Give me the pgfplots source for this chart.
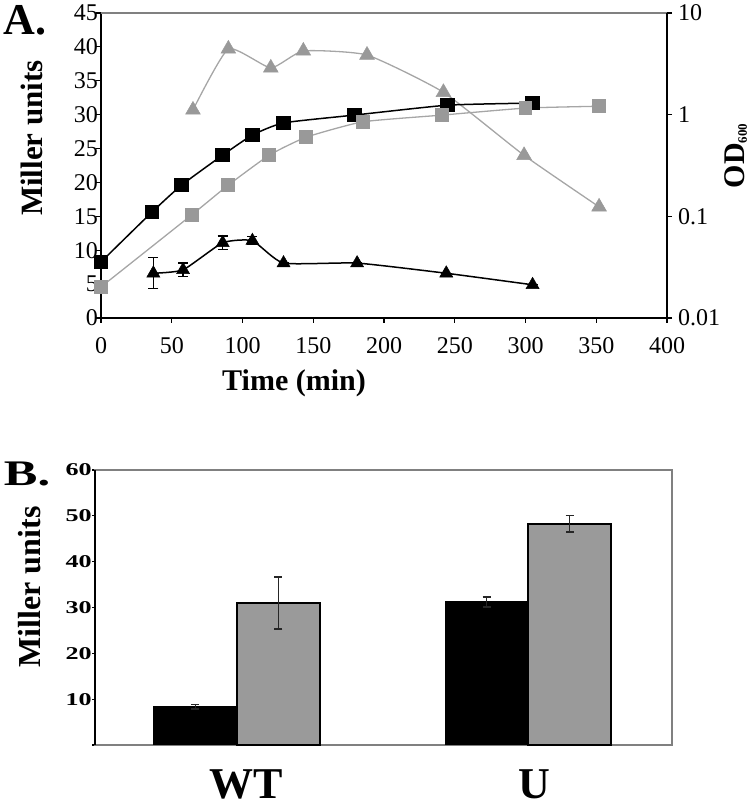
\documentclass[border=0pt]{standalone}
\usepackage{pgfplots}
\pgfplotsset{compat=1.18}
\usepackage{fontspec}
\setmainfont{Liberation Serif}
\definecolor{mgray}{HTML}{999999}
\definecolor{lgray}{HTML}{A6A6A6}
\definecolor{fgray}{HTML}{9A9A9A}
\begin{document}
\begin{tikzpicture}[x=1pt,y=1pt]
\useasboundingbox (0,0) rectangle (750,808);
% ---------- Panel A: Miller units (left, linear) ----------
\begin{axis}[
  at={(101pt,490pt)}, anchor=south west, scale only axis,
  width=566pt, height=305pt,
  xmin=0, xmax=400, ymin=0, ymax=45,
  xtick={0,50,...,400}, ytick={0,5,...,45},
  axis x line*=bottom, axis y line*=left,
  axis line style={-, black, line width=1.8pt},
  tick align=outside, major tick length=5pt,
  tick style={black, line width=1.2pt},
  /pgf/number format/assume math mode=true,
  ticklabel style={font=\fontsize{24}{24}\selectfont},
  xticklabel style={anchor=north, inner sep=0pt, yshift=-14pt},
  yticklabel style={anchor=east, inner sep=0pt, xshift=2pt},
  clip=false,
]
\draw[gray, line width=1.1pt] (rel axis cs:0,1) -- (rel axis cs:1,1);
% gray triangles
\addplot[lgray, line width=1.3pt, smooth, tension=0.3, mark=triangle*, mark size=8.5pt,
  mark options={fill=mgray, draw=mgray, line width=0.5pt}] coordinates {
  (65,30.7) (90,39.7) (120,36.9) (143,39.4) (188,38.8) (242,33.3) (299,24.0) (352,16.4)};
% black triangles with error bars
\addplot[black, line width=1.5pt, smooth, tension=0.3, mark=triangle*, mark size=7.5pt,
  mark options={fill=black, draw=black, line width=0.5pt},
  error bars/.cd, y dir=both, y explicit,
  error bar style={black, line width=1.3pt},
  error mark options={rotate=90, mark size=5pt, line width=1.3pt, black}] coordinates {
  (37,6.6) +- (0,2.3)
  (58,7.1) +- (0,1.0)
  (86,11.1) +- (0,1.0)
  (107,11.4) +- (0,0.6)
  (129,8.1) +- (0,0)
  (181,8.1) +- (0,0)
  (244,6.6) +- (0,0)
  (305,4.9) +- (0,0)};
\end{axis}
% ---------- Panel A: OD600 (right, log) ----------
\begin{axis}[
  at={(101pt,490pt)}, anchor=south west, scale only axis,
  width=566pt, height=305pt,
  xmin=0, xmax=400, ymode=log, ymin=0.01, ymax=10,
  axis x line=none, axis y line*=right,
  axis line style={-, black, line width=1.8pt},
  ytick={0.01,0.1,1,10}, yticklabels={0.01,0.1,1,10},
  minor y tick style={draw=none},
  tick align=outside, major tick length=5pt,
  tick style={black, line width=1.2pt},
  yticklabel style={font=\fontsize{24}{24}\selectfont, anchor=west, inner sep=0pt, xshift=6pt},
  clip=false,
]
% black squares
\addplot[black, line width=1.5pt, smooth, tension=0.3, mark=square*, mark size=6.5pt,
  mark options={fill=black, draw=black}] coordinates {
  (0,0.0356) (36,0.110) (57,0.203) (86,0.40) (107,0.63) (129,0.83) (179,0.99) (245,1.24) (305,1.30)};
% gray squares
\addplot[lgray, line width=1.3pt, smooth, tension=0.3, mark=square*, mark size=6.3pt,
  mark options={fill=mgray, draw=mgray}] coordinates {
  (0,0.0202) (64,0.103) (90,0.203) (119,0.40) (145,0.60) (185,0.85) (241,0.99) (300,1.16) (352,1.21)};
\end{axis}
\node[font=\bfseries\fontsize{44}{44}\selectfont, inner sep=0pt] at (25,788) {A.};
\node[font=\bfseries\fontsize{31}{31}\selectfont, rotate=90, inner sep=0pt] at (32,670) {Miller units};
\node[font=\bfseries\fontsize{30}{30}\selectfont, inner sep=0pt] at (294,425) {Time (min)};
\node[rotate=90, inner sep=0pt] at (736,652) {\bfseries\fontsize{30}{30}\selectfont OD\raisebox{-2pt}{\fontsize{13}{13}\selectfont 600}};
% ---------- Panel B ----------
\begin{axis}[
  at={(95pt,63pt)}, anchor=south west, scale only axis,
  width=577pt, height=275pt,
  xmin=0.514, xmax=2.49, ymin=0, ymax=60,
  axis line style={gray, line width=1.2pt},
  xtick={1.03,2.02}, xticklabels={WT,U},
  major x tick style={draw=none},
  xticklabel style={font=\bfseries\fontsize{44}{44}\selectfont, anchor=north, inner sep=0pt, yshift=-21pt},
  ytick={0,10,...,60}, yticklabels={,10,20,30,40,50,60},
  ytick pos=left, tick align=outside, major tick length=3pt,
  major y tick style={black, line width=1.2pt},
  /pgf/number format/assume math mode=true,
  yticklabel style={font=\bfseries\fontsize{18}{18}\selectfont, xscale=1.45, anchor=east, inner sep=0pt, xshift=0pt},
  clip=false,
]
\addplot[ybar, bar width=0.284, bar shift=0pt, fill=black, draw=black, line width=1pt,
  error bars/.cd, y dir=both, y explicit,
  error bar style={black!85, line width=1.5pt},
  error mark options={rotate=90, mark size=4pt, line width=1.5pt, black!85}] coordinates {
  (0.858,8.3) +- (0,0.5)
  (1.855,31.2) +- (0,1.1)};
\addplot[ybar, bar width=0.284, bar shift=0pt, fill=fgray, draw=black, line width=2pt,
  error bars/.cd, y dir=both, y explicit,
  error bar style={black!85, line width=1.5pt},
  error mark options={rotate=90, mark size=4pt, line width=1.5pt, black!85}] coordinates {
  (1.142,31.0) +- (0,5.7)
  (2.139,48.3) +- (0,1.8)};
\draw[black, line width=2pt] (rel axis cs:0,0) -- (rel axis cs:0,1);
\end{axis}
\node[font=\bfseries\fontsize{36}{36}\selectfont, inner sep=0pt, xscale=1.4] at (27,334.5) {B.};
\node[font=\bfseries\fontsize{32}{32}\selectfont, rotate=90, inner sep=0pt] at (30,221) {Miller units};
\end{tikzpicture}
\end{document}
